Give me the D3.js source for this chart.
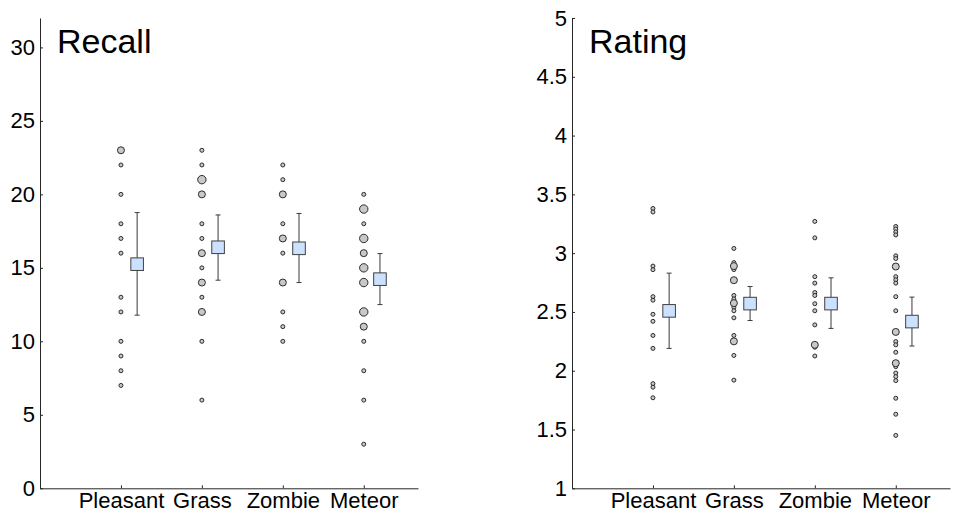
<!DOCTYPE html>
<html>
<head>
<meta charset="utf-8">
<script src="https://cdn.jsdelivr.net/npm/d3@7"></script>
<style>
  html, body { margin: 0; padding: 0; background: #fff; }
  svg { display: block; }
  text { font-family: "Liberation Sans", Arial, sans-serif; fill: #000; }
</style>
</head>
<body>
<svg id="chart" width="966" height="513"></svg>
<script>
// ---------- data ----------
const categories = ["Pleasant", "Grass", "Zombie", "Meteor"];

// [value, number of participants with that value]
const recallPleasant = [[23,2],[22,1],[20,1],[18,1],[17,1],[16,1],[13,1],[12,1],[10,1],[9,1],[8,1],[7,1]];
const recallGrass    = [[23,1],[22,1],[21,3],[20,2],[18,1],[17,1],[16,2],[15,1],[14,2],[13,1],[12,2],[10,1],[6,1]];
const recallZombie   = [[22,1],[21,1],[20,2],[18,1],[17,2],[16,1],[14,2],[12,1],[11,1],[10,1]];
const recallMeteor   = [[20,1],[19,3],[18,1],[17,3],[16,2],[15,3],[14,3],[12,3],[11,2],[10,1],[8,1],[6,1],[3,1]];
const recallMeans = [15.25, 16.4, 16.33, 14.23];
const recallLow   = [11.78, 14.16, 14.0, 12.5];
const recallHigh  = [18.76, 18.6, 18.7, 15.97];
const recallTicks = [0, 5, 10, 15, 20, 25, 30];

const ratingPleasant = [[3.38,1],[3.35,1],[2.89,1],[2.86,1],[2.63,1],[2.60,1],[2.48,1],[2.42,1],[2.30,1],[2.19,1],[1.89,1],[1.86,1],[1.77,1]];
const ratingGrass    = [[3.04,1],[2.92,1],[2.89,2],[2.86,1],[2.77,2],[2.64,1],[2.61,1],[2.575,2],[2.54,1],[2.51,1],[2.45,1],[2.30,1],[2.25,2],[2.13,1],[1.92,1]];
const ratingZombie   = [[3.27,1],[3.13,1],[2.80,1],[2.745,1],[2.665,1],[2.64,1],[2.57,1],[2.51,1],[2.39,1],[2.22,2],[2.20,1],[2.125,1]];
const ratingMeteor   = [[3.227,1],[3.205,1],[3.18,1],[3.155,1],[2.977,1],[2.954,1],[2.886,2],[2.80,1],[2.773,1],[2.745,1],[2.63,1],[2.51,1],[2.33,2],[2.248,1],[2.22,1],[2.157,1],[2.064,2],[2.035,1],[1.98,1],[1.95,1],[1.916,1],[1.766,1],[1.63,1],[1.45,1]];
const ratingMeans = [2.509, 2.571, 2.571, 2.418];
const ratingLow   = [2.19, 2.427, 2.36, 2.21];
const ratingHigh  = [2.83, 2.716, 2.79, 2.626];
const ratingTicks = [1, 1.5, 2, 2.5, 3, 3.5, 4, 4.5, 5];

// ---------- drawing ----------
const svg = d3.select("#chart");
const radius = d3.scaleLinear().domain([1, 2, 3]).range([2.0, 3.5, 4.2]);
const axisColor = "#262626";

function panel(opt) {
  const x = d3.scaleLinear().domain([0, 4.67]).range([opt.left, opt.left + 378]);
  const y = d3.scaleLinear().domain(opt.yDomain).range([488.3, 18]);
  const g = svg.append("g");

  // y axis
  const ya = g.append("g").attr("transform", `translate(${opt.left},0)`)
    .call(d3.axisLeft(y).tickValues(opt.ticks).tickSizeInner(-3).tickSizeOuter(0).tickPadding(5)
      .tickFormat(d3.format("")));
  // x axis
  const xa = g.append("g").attr("transform", `translate(0,488.3)`)
    .call(d3.axisBottom(x).tickValues([1,2,3,4]).tickSizeInner(-3).tickSizeOuter(0).tickPadding(4)
      .tickFormat(d => categories[d - 1]));
  [ya, xa].forEach(a => {
    a.selectAll("path, line").attr("stroke", axisColor).attr("stroke-width", 1);
    a.selectAll("text").attr("fill", "#000").style("font-size", "22px")
      .style("font-family", '"Liberation Sans", Arial, sans-serif');
  });

  // title
  g.append("text").attr("x", opt.left + 17).attr("y", 53.3)
    .style("font-size", "34px").text(opt.title);

  // raw points
  opt.points.forEach((pts, i) => {
    g.append("g").selectAll("circle").data(pts.slice().sort((a, b) => a[1] - b[1]))
      .join("circle")
      .attr("cx", x(i + 1))
      .attr("cy", d => y(d[0]))
      .attr("r", d => radius(d[1]))
      .attr("fill", "#c8c8c8")
      .attr("stroke", "#2a2a2a")
      .attr("stroke-width", 1);
  });

  // error bars + means
  opt.means.forEach((m, i) => {
    const cx = x(i + 1.2);
    const eg = g.append("g");
    eg.append("line").attr("x1", cx).attr("x2", cx)
      .attr("y1", y(opt.low[i])).attr("y2", y(opt.high[i]))
      .attr("stroke", "#3a3a3a").attr("stroke-width", 1);
    [opt.low[i], opt.high[i]].forEach(v => {
      eg.append("line").attr("x1", cx - 2.5).attr("x2", cx + 2.5)
        .attr("y1", y(v)).attr("y2", y(v))
        .attr("stroke", "#3a3a3a").attr("stroke-width", 1);
    });
    eg.append("rect").attr("x", cx - 6.3).attr("y", y(m) - 6.3)
      .attr("width", 12.6).attr("height", 12.6)
      .attr("fill", "#cce0ff").attr("stroke", "#404040").attr("stroke-width", 1);
  });
}

panel({
  left: 40, yDomain: [0, 32], ticks: recallTicks, title: "Recall",
  points: [recallPleasant, recallGrass, recallZombie, recallMeteor],
  means: recallMeans, low: recallLow, high: recallHigh
});
panel({
  left: 572, yDomain: [1, 5], ticks: ratingTicks, title: "Rating",
  points: [ratingPleasant, ratingGrass, ratingZombie, ratingMeteor],
  means: ratingMeans, low: ratingLow, high: ratingHigh
});
</script>
</body>
</html>
